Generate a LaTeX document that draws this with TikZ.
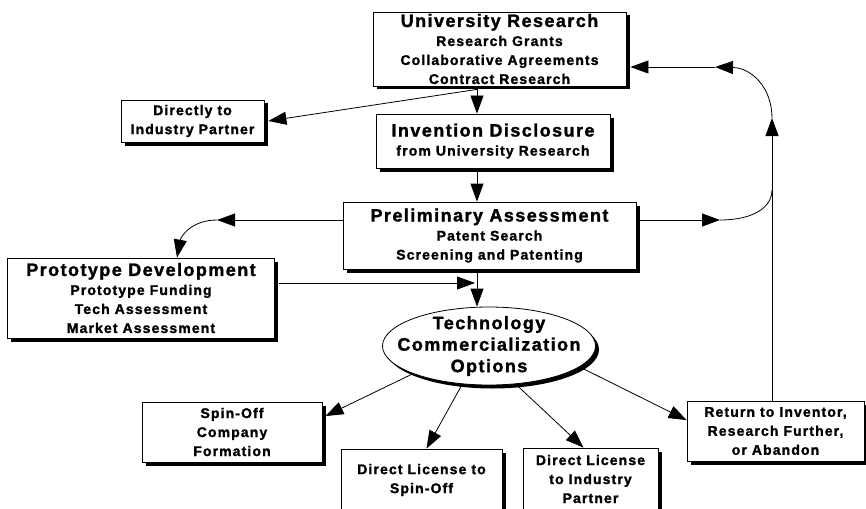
\documentclass[tikz,border=0pt]{standalone}
\usepackage{fontspec}
\setmainfont{Liberation Sans}[LetterSpace=8, BoldFeatures={FakeBold=1.5}]
\usetikzlibrary{arrows.meta, shapes.geometric, shadows, calc}

\tikzset{
  stage/.style={draw, fill=white, line width=0.8pt, inner sep=0pt, align=center,
    font=\bfseries\fontsize{14}{19}\selectfont,
    drop shadow={shadow xshift=3.5pt, shadow yshift=-3.5pt, fill=black, opacity=1}},
  hub/.style={stage, ellipse},
  hubtext/.style={align=center, inner sep=0pt, font=\bfseries\fontsize{18}{21.5}\selectfont},
  flow/.style={line width=0.8pt, -{Triangle[length=18pt, width=13pt]}},
  link/.style={line width=0.8pt},
}
\newcommand{\headline}[1]{{\fontsize{18}{19}\selectfont #1}}

\begin{document}
\begin{tikzpicture}[x=1pt, y=-1pt]
  \useasboundingbox (0,0) rectangle (866,508);

  % stages
  \node[stage, minimum width=253pt, minimum height=74pt] (univ) at (499.5,49)
    {\headline{University Research}\\Research Grants\\Collaborative Agreements\\Contract Research};
  \node[stage, minimum width=143pt, minimum height=42pt] (direct) at (192.5,121)
    {Directly to\\Industry Partner};
  \node[stage, minimum width=234pt, minimum height=54pt] (invent) at (493,141)
    {\headline{Invention Disclosure}\\from University Research};
  \node[stage, minimum width=293pt, minimum height=67pt] (prelim) at (489.5,235.5)
    {\headline{Preliminary Assessment}\\Patent Search\\Screening and Patenting};
  \node[stage, minimum width=267pt, minimum height=80pt] (proto) at (141,298)
    {\headline{Prototype Development}\\Prototype Funding\\Tech Assessment\\Market Assessment};

  % options hub
  \node[hub, minimum width=213pt, minimum height=78pt] (tech) at (489,346) {};
  \node[hubtext] (techlabel) at (tech) {Technology\\Commercialization\\Options};

  % outcomes
  \node[stage, minimum width=180pt, minimum height=60pt] (spin) at (232,432)
    {Spin-Off\\Company\\Formation};
  \node[stage, minimum width=161pt, minimum height=62pt] (dlspin) at (421.5,480)
    {Direct License to\\Spin-Off};
  \node[stage, minimum width=135pt, minimum height=62pt] (dlind) at (590.5,479)
    {Direct License\\to Industry\\Partner};
  \node[stage, minimum width=177pt, minimum height=60pt] (ret) at (775.5,431)
    {Return to Inventor,\\Research Further,\\or Abandon};

  % bends and joins
  \coordinate (spine) at (477,0);
  \coordinate (lbend) at (217,220);
  \coordinate (rbend) at (720,220);
  \coordinate (rise) at (772,118);
  \coordinate (back) at (715,67);
  \coordinate (join) at (475,283);

  % main line
  \draw[flow] (univ.south -| spine) -- (invent.north -| spine);
  \draw[flow] ($(univ.south -| spine)+(0,3)$) -- ($(direct.east)+(4,0)$);
  \draw[flow] (invent.south -| spine) -- (prelim.north -| spine);
  \draw[flow] ($(prelim.south -| spine)+(0,3)$) -- (tech.north -| spine);

  % to prototype and back
  \draw[flow] (prelim.west |- lbend) -- (lbend);
  \draw[flow] (lbend) .. controls (192,220) and (181,236) .. ($(proto.north)+(36,0)$);
  \draw[flow] ($(proto.east |- join)+(4,0)$) -- (join);

  % loop back to research
  \draw[flow] ($(prelim.east |- rbend)+(4,0)$) -- (rbend);
  \draw[link] (rbend) .. controls (752,220) and (772,208) .. (772,190);
  \draw[flow] (ret.north -| rise) -- (rise);
  \draw[flow] (rise) .. controls (772,88) and (752,68) .. (back);
  \draw[flow] (back) -- ($(univ.east |- back)+(4,0)$);

  % options
  \draw[flow] (tech.200) -- ($(spin.10)+(3,0)$);
  \draw[flow] (tech.235) -- ($(dlspin.north)+(5,0)$);
  \draw[flow] (tech.-55) -- ($(dlind.north)+(-7,0)$);
  \draw[flow] (tech.-13) -- (ret.173);
\end{tikzpicture}
\end{document}
